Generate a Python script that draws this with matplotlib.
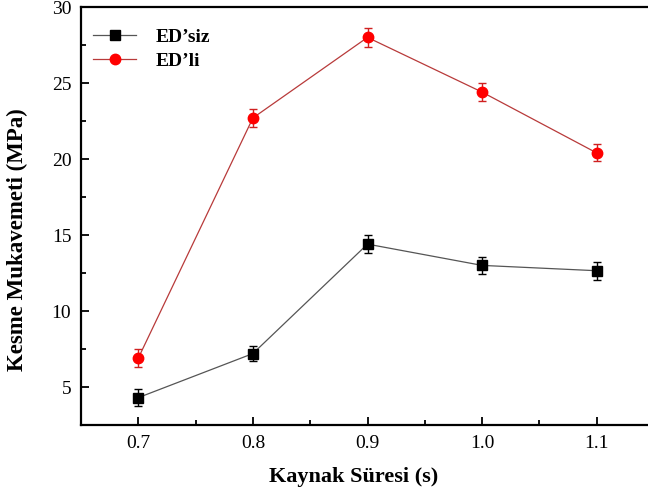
import matplotlib
matplotlib.use("Agg")
from matplotlib import pyplot as plt
from matplotlib.ticker import MultipleLocator

# data
sure = [0.7, 0.8, 0.9, 1.0, 1.1]
ed_siz = [4.3, 7.2, 14.4, 13.0, 12.65]
ed_siz_err = [0.55, 0.5, 0.6, 0.55, 0.58]
ed_li = [6.9, 22.7, 28.0, 24.4, 20.4]
ed_li_err = [0.6, 0.6, 0.65, 0.6, 0.56]

plt.rcParams['font.family'] = ['Liberation Serif', 'DejaVu Serif']

fig = plt.figure(figsize=(6.48, 4.97), dpi=100)
ax = fig.add_axes([81 / 648, (497 - 425) / 497, (654 - 81) / 648, (425 - 7) / 497])

c1 = ax.errorbar(sure, ed_siz, yerr=ed_siz_err, color='#555555', lw=0.9,
                 marker='s', ms=6.5, mfc='black', mec='black',
                 ecolor='black', elinewidth=1, capsize=3)
c2 = ax.errorbar(sure, ed_li, yerr=ed_li_err, color='#b83a3a', lw=0.9,
                 marker='o', ms=7.5, mfc='red', mec='red',
                 ecolor='#d02020', elinewidth=1, capsize=3)

ax.set_xlim(0.65, 1.15)
ax.set_ylim(2.5, 30)
ax.xaxis.set_minor_locator(MultipleLocator(0.05))
ax.yaxis.set_minor_locator(MultipleLocator(2.5))
ax.set_xticks(sure)
ax.set_xticklabels(['0.7', '0.8', '0.9', '1.0', '1.1'])
ax.set_yticks([5, 10, 15, 20, 25, 30])
ax.tick_params(which='major', direction='in', length=6, width=1.3, labelsize=14, pad=7)
ax.tick_params(which='minor', direction='in', length=3.5, width=1.3)
for s in ax.spines.values():
    s.set_linewidth(1.6)

ax.set_xlabel('Kaynak S\u00fcresi (s)', fontsize=16, fontweight='bold')
ax.set_ylabel('Kesme Mukavemeti (MPa)', fontsize=16.5, fontweight='bold')
ax.xaxis.set_label_coords(0.475, -0.1)
ax.yaxis.set_label_coords(-0.0925, 0.443)

# legend shows only line + marker, no error bars
leg = ax.legend([c1[0], c2[0]], ["ED\u2019siz", "ED\u2019li"],
                loc='upper left', frameon=False, prop={'size': 14, 'weight': 'bold'},
                handlelength=2.2, handletextpad=1.0, labelspacing=0.3,
                bbox_to_anchor=(-0.009, 0.99))

plt.savefig('out.png', dpi=100)
